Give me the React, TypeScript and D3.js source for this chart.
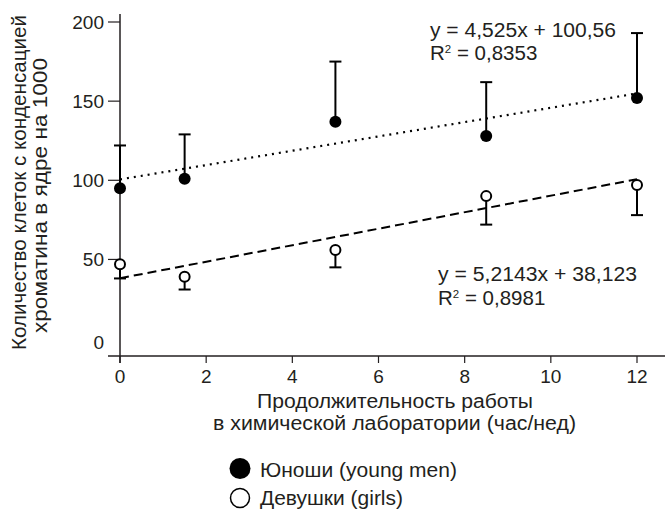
import React from "react";
import * as d3 from "d3";

// hours per week in the chemistry lab
const hours = [0, 1.5, 5, 8.5, 12];
// young men: mean and top of error bar
const menMean = [95, 101, 137, 128, 152];
const menUpper = [122, 129, 175, 162, 193];
// girls: mean and bottom of error bar
const girlsMean = [47, 39, 56, 90, 97];
const girlsLower = [38, 31, 45, 72, 78];

const menFit = { slope: 4.525, intercept: 100.56 };
const girlsFit = { slope: 5.2143, intercept: 38.123 };

const xTicks = [0, 2, 4, 6, 8, 10, 12];
const yTicks = [0, 50, 100, 150, 200];

const yTitle = ["Количество клеток с конденсацией", "хроматина в ядре на 1000"];
const xTitle = ["Продолжительность работы", "в химической лаборатории (час/нед)"];
const legendLabels = ["Юноши (young men)", "Девушки (girls)"];

const W = 665;
const H = 509;
const FONT = "'Liberation Sans', Arial, Helvetica, sans-serif";
const INK = "#231f20";

export default function App() {
  const x = d3.scaleLinear().domain([0, 12]).range([120, 637]);
  const y = d3.scaleLinear().domain([-11, 200]).range([356, 22]);

  const menPts = hours.map((h, i) => ({ h, v: menMean[i], e: menUpper[i] }));
  const girlPts = hours.map((h, i) => ({ h, v: girlsMean[i], e: girlsLower[i] }));

  const fitLine = (fit: { slope: number; intercept: number }) =>
    d3.line<number>()
      .x(d => x(d))
      .y(d => y(fit.slope * d + fit.intercept))([0, 12]) || "";

  const capW = 6;
  const fit = { lengthAdjust: "spacingAndGlyphs" as const };

  return (
    <svg width={W} height={H} style={{ display: "block", position: "absolute", left: 0, top: 0, background: "#fff" }}
      fontFamily={FONT}>
      {/* axes */}
      <line x1={x(0)} x2={x(0)} y1={14} y2={363} stroke={INK} strokeWidth={1.5} />
      <line x1={108} x2={W} y1={y(-11)} y2={y(-11)} stroke={INK} strokeWidth={1.5} />
      {yTicks.map(t => (
        <g key={t}>
          {t > 0 && <line x1={108} x2={x(0)} y1={y(t)} y2={y(t)} stroke={INK} strokeWidth={1.2} />}
          <text x={104} y={y(t) + (t === 0 ? 4 : 0)} dy="0.35em" textAnchor="end" fontSize={19} fill={INK}>{t}</text>
        </g>
      ))}
      {xTicks.map(t => (
        <g key={t}>
          <line x1={x(t)} x2={x(t)} y1={356} y2={363} stroke={INK} strokeWidth={1.2} />
          <text x={x(t)} y={383} textAnchor="middle" fontSize={19} fill={INK}>{t}</text>
        </g>
      ))}

      {/* axis titles */}
      <text transform="translate(26,182.5) rotate(-90)" textAnchor="middle" fontSize={19.5} fill={INK}
        textLength={335} {...fit}>{yTitle[0]}</text>
      <text transform="translate(47,195.5) rotate(-90)" textAnchor="middle" fontSize={19.5} fill={INK}
        textLength={275} {...fit}>{yTitle[1]}</text>
      <text x={395} y={408} textAnchor="middle" fontSize={19.5} fill={INK} textLength={276} {...fit}>{xTitle[0]}</text>
      <text x={394.5} y={430} textAnchor="middle" fontSize={19.5} fill={INK} textLength={363} {...fit}>{xTitle[1]}</text>

      {/* trend lines */}
      <path d={fitLine(menFit)} fill="none" stroke="#000" strokeWidth={2.2} strokeDasharray="2,5" />
      <path d={fitLine(girlsFit)} fill="none" stroke="#000" strokeWidth={2} strokeDasharray="9,5" />

      {/* error bars */}
      {menPts.map(d => (
        <g key={"me" + d.h} stroke="#000" strokeWidth={2}>
          <line x1={x(d.h)} x2={x(d.h)} y1={y(d.v)} y2={y(d.e)} />
          <line x1={x(d.h) - capW} x2={x(d.h) + capW} y1={y(d.e)} y2={y(d.e)} />
        </g>
      ))}
      {girlPts.map(d => (
        <g key={"ge" + d.h} stroke="#000" strokeWidth={2}>
          <line x1={x(d.h)} x2={x(d.h)} y1={y(d.v)} y2={y(d.e)} />
          <line x1={x(d.h) - capW} x2={x(d.h) + capW} y1={y(d.e)} y2={y(d.e)} />
        </g>
      ))}

      {/* markers */}
      {menPts.map(d => (
        <circle key={"m" + d.h} cx={x(d.h)} cy={y(d.v)} r={6} fill="#000" />
      ))}
      {girlPts.map(d => (
        <circle key={"g" + d.h} cx={x(d.h)} cy={y(d.v)} r={5} fill="#fff" stroke="#000" strokeWidth={2} />
      ))}

      {/* regression equations */}
      <text x={430} y={37} fontSize={19.5} fill={INK} textLength={186} {...fit}>y = 4,525x + 100,56</text>
      <text x={430} y={60} fontSize={20.5} fill={INK}>R<tspan fontSize={11.5} dy={-7}>2</tspan><tspan dy={7}> = 0,8353</tspan></text>
      <text x={438} y={281} fontSize={19.5} fill={INK} textLength={199} {...fit}>y = 5,2143x + 38,123</text>
      <text x={438} y={305} fontSize={20.5} fill={INK}>R<tspan fontSize={11.5} dy={-7}>2</tspan><tspan dy={7}> = 0,8981</tspan></text>

      {/* legend */}
      <circle cx={240} cy={468.5} r={10.5} fill="#000" />
      <text x={260} y={476.5} fontSize={20} fill={INK} textLength={197} {...fit}>{legendLabels[0]}</text>
      <circle cx={240} cy={498} r={9.5} fill="#fff" stroke="#000" strokeWidth={1.5} />
      <text x={260} y={505} fontSize={20} fill={INK} textLength={143} {...fit}>{legendLabels[1]}</text>
    </svg>
  );
}
